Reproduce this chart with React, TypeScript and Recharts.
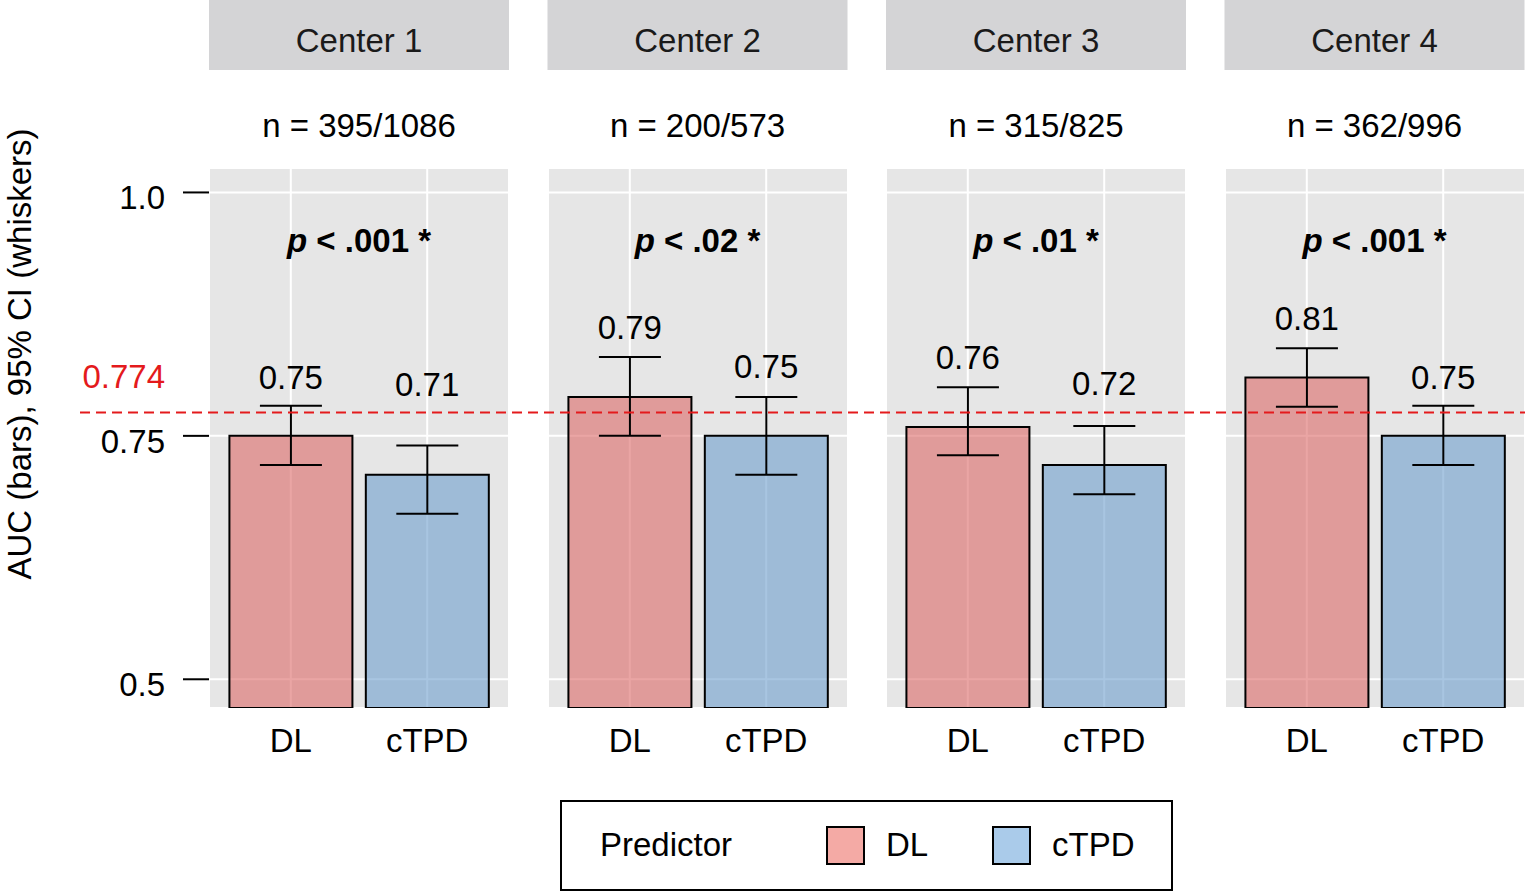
import React from 'react';
import {
  ComposedChart, Bar, Line, Cell, ErrorBar, LabelList, XAxis, YAxis,
  CartesianGrid, ReferenceLine,
} from 'recharts';

// facets / categories
const centers = ['Center 1', 'Center 2', 'Center 3', 'Center 4'];
const nLabels = ['n = 395/1086', 'n = 200/573', 'n = 315/825', 'n = 362/996'];
const pLabels = ['.001', '.02', '.01', '.001'];
const predictors = ['DL', 'cTPD'];

// AUC (bars) per center
const aucDL = [0.75, 0.79, 0.759, 0.81];
const aucTPD = [0.71, 0.75, 0.72, 0.75];
// 95% CI (whiskers)
const loDL = [0.72, 0.75, 0.73, 0.78];
const hiDL = [0.781, 0.831, 0.80, 0.84];
const loTPD = [0.67, 0.71, 0.69, 0.72];
const hiTPD = [0.74, 0.79, 0.76, 0.781];
// printed values and where they sit (AUC units, repelled off the ref line)
const labelDL = ['0.75', '0.79', '0.76', '0.81'];
const labelTPD = ['0.71', '0.75', '0.72', '0.75'];
const labelYDL = [0.8105, 0.8618, 0.831, 0.871];
const labelYTPD = [0.8033, 0.8218, 0.8043, 0.8105];

const refAUC = 0.774;
const yTicks = [0.5, 0.75, 1.0];
const yDomain: [number, number] = [0.4705, 1.0251];

const barFill = ['rgba(220,105,103,0.6)', 'rgba(110,158,205,0.6)'];
const keyFill = ['#F4AAA5', '#AACBEA'];

const FONT = '"Liberation Sans", Arial, Helvetica, sans-serif';
const FS = 33;
const PANEL_X = [209, 547.5, 886, 1224.5];
const PANEL_W = 300;
const PANEL_TOP = 168;
const PANEL_H = 540;

const fmtTick = (v: number) => (v === 1 ? '1.0' : String(v));

function panelData(c: number) {
  const auc = [aucDL[c], aucTPD[c]];
  const lo = [loDL[c], loTPD[c]];
  const hi = [hiDL[c], hiTPD[c]];
  const lab = [labelDL[c], labelTPD[c]];
  const labY = [labelYDL[c], labelYTPD[c]];
  return predictors.map((name, k) => ({
    name,
    auc: auc[k],
    err: [auc[k] - lo[k], hi[k] - auc[k]],
    labelY: labY[k],
    label: lab[k],
  }));
}

function Panel({ c }: { c: number }) {
  const withAxis = c === 0;
  const yW = withAxis ? 209 : 0;
  const data = panelData(c);
  return (
    <div style={{ position: 'absolute', left: PANEL_X[c] - yW, top: PANEL_TOP }}>
      <ComposedChart
        width={PANEL_W + yW}
        height={PANEL_H + 60}
        data={data}
        margin={{ top: 0, right: 0, bottom: 0, left: 0 }}
        barCategoryGap="5%"
      >
        <CartesianGrid fill="#E6E6E6" stroke="#FFFFFF" strokeWidth={2} />
        <XAxis
          dataKey="name"
          height={60}
          axisLine={false}
          tickLine={false}
          tickSize={0}
          tickMargin={21}
          interval={0}
          padding={{ left: 13.6, right: 13.6 }}
          tick={{ fontSize: FS, fill: '#000', fontFamily: FONT }}
        />
        <YAxis
          type="number"
          domain={yDomain}
          allowDataOverflow
          ticks={yTicks}
          width={yW}
          hide={!withAxis}
          axisLine={false}
          tickSize={26}
          tickMargin={18}
          tickLine={{ stroke: '#000', strokeWidth: 2 }}
          tick={(p: any) => (
            <text x={p.x} y={p.y + 5} dy="0.355em" textAnchor="end" fontSize={FS} fill="#000" fontFamily={FONT}>
              {fmtTick(p.payload.value)}
            </text>
          )}
        />
        <Bar dataKey="auc" stroke="#000" strokeWidth={2} isAnimationActive={false}>
          {data.map((d, k) => (
            <Cell key={d.name} fill={barFill[k]} />
          ))}
          <ErrorBar dataKey="err" width={31} stroke="#000" strokeWidth={2} direction="y" isAnimationActive={false} />
        </Bar>
        <Line dataKey="labelY" stroke="none" dot={false} activeDot={false} legendType="none" isAnimationActive={false}>
          <LabelList dataKey="label" position="center" fontSize={FS} fill="#000" fontFamily={FONT} />
        </Line>
      </ComposedChart>
    </div>
  );
}

function RefOverlay() {
  return (
    <div style={{ position: 'absolute', left: 80, top: PANEL_TOP, pointerEvents: 'none' }}>
      <ComposedChart width={1445} height={PANEL_H} data={[{ name: 'a' }]} margin={{ top: 0, right: 0, bottom: 0, left: 0 }}>
        <XAxis dataKey="name" hide />
        <YAxis type="number" domain={yDomain} allowDataOverflow hide />
        <ReferenceLine
          y={refAUC}
          stroke="#E41A1C"
          strokeWidth={2}
          strokeDasharray="10 6"
          label={(p: any) => (
            <text x={p.viewBox.x + 85} y={p.viewBox.y - 24} textAnchor="end" fontSize={FS} fill="#E41A1C" fontFamily={FONT}>
              {String(refAUC)}
            </text>
          )}
        />
      </ComposedChart>
    </div>
  );
}

function Annotations() {
  return (
    <svg width={1525} height={893} style={{ position: 'absolute', left: 0, top: 0, pointerEvents: 'none' }} fontFamily={FONT}>
      {centers.map((name, c) => (
        <g key={name}>
          <rect x={PANEL_X[c]} y={0} width={PANEL_W} height={70} fill="#D4D4D6" />
          <text x={PANEL_X[c] + PANEL_W / 2} y={52} textAnchor="middle" fontSize={FS} fill="#1a1a1a">{name}</text>
          <text x={PANEL_X[c] + PANEL_W / 2} y={137} textAnchor="middle" fontSize={FS} fill="#000">{nLabels[c]}</text>
          <text x={PANEL_X[c] + PANEL_W / 2} y={252} textAnchor="middle" fontSize={FS} fontWeight="bold" fill="#000">
            <tspan fontStyle="italic">p</tspan>
            {` < ${pLabels[c]} *`}
          </text>
        </g>
      ))}
      <text transform="translate(31,354) rotate(-90)" textAnchor="middle" fontSize={FS} fill="#000">
        AUC (bars), 95% CI (whiskers)
      </text>
      <rect x={561} y={801} width={611} height={89} fill="#fff" stroke="#000" strokeWidth={2} />
      <text x={600} y={856} fontSize={FS} fill="#000">Predictor</text>
      {predictors.map((name, k) => {
        const kx = k === 0 ? 827 : 993;
        return (
          <g key={name}>
            <rect x={kx} y={827} width={37} height={37} fill={keyFill[k]} stroke="#000" strokeWidth={2} />
            <text x={kx + 59} y={856} fontSize={FS} fill="#000">{name}</text>
          </g>
        );
      })}
    </svg>
  );
}

export default function App() {
  return (
    <div style={{ position: 'absolute', left: 0, top: 0, width: 1525, height: 893, background: '#fff', fontFamily: FONT, overflow: 'hidden' }}>
      {centers.map((_, c) => (
        <Panel key={c} c={c} />
      ))}
      <RefOverlay />
      <Annotations />
    </div>
  );
}
